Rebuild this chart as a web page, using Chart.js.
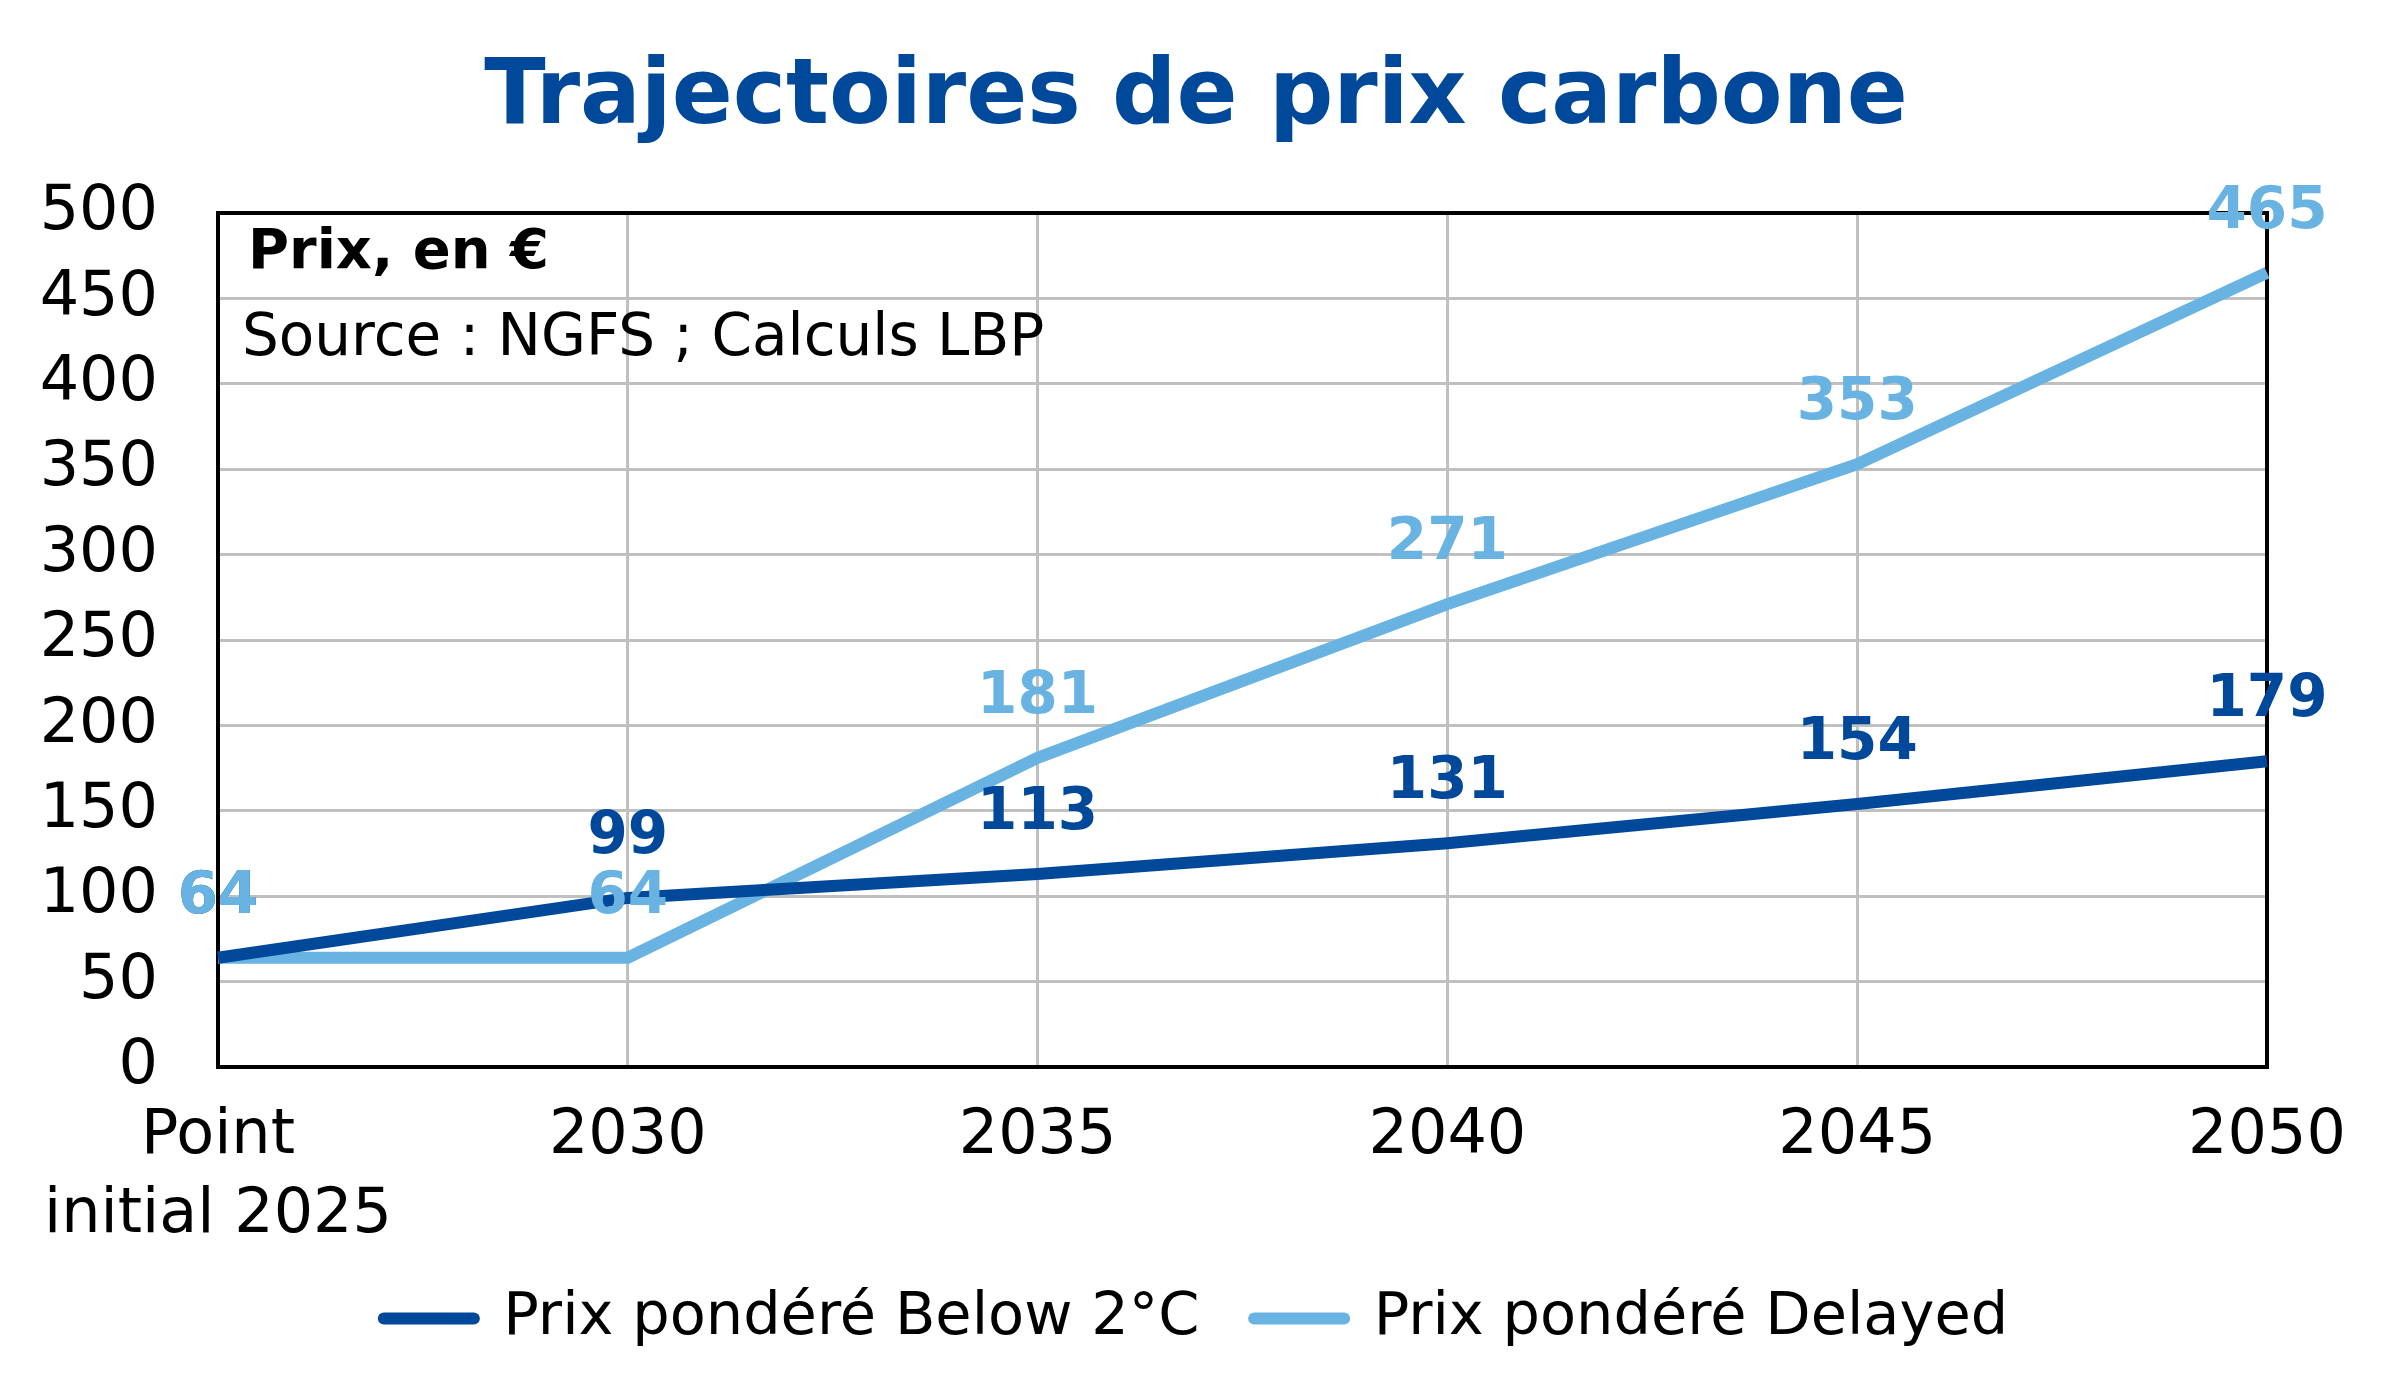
<!DOCTYPE html>
<html lang="fr">
<head>
<meta charset="utf-8">
<script src="https://cdn.jsdelivr.net/npm/chart.js@4.4.1/dist/chart.umd.min.js"></script>
<style>
  html, body { margin: 0; padding: 0; background: #fff; }
  #wrap { width: 2392px; height: 1393px; }
</style>
</head>
<body>
<div id="wrap"><canvas id="grafico" width="2392" height="1393"></canvas></div>
<script>
// données
const annees = [['Point', 'initial 2025'], '2030', '2035', '2040', '2045', '2050'];
const prixBelow2 = [64, 99, 113, 131, 154, 179];
const prixDelayed = [64, 64, 181, 271, 353, 465];
const ticksY = [0, 50, 100, 150, 200, 250, 300, 350, 400, 450, 500];

const BLEU_FONCE = '#00489A';
const BLEU_CLAIR = '#69B3E2';
const POLICE = "'DejaVu Sans', sans-serif";

// cadre noir autour de la zone de tracé + textes en haut à gauche
const cadre = {
  id: 'cadre',
  beforeDatasetsDraw(chart) {
    const { ctx, chartArea: a } = chart;
    ctx.save();
    ctx.strokeStyle = '#000';
    ctx.lineWidth = 4;
    ctx.strokeRect(a.left, a.top, a.right - a.left, a.bottom - a.top);
    ctx.fillStyle = '#000';
    ctx.textAlign = 'left';
    ctx.textBaseline = 'middle';
    ctx.font = 'bold 56px ' + POLICE;
    ctx.fillText('Prix, en €', a.left + 30, a.top + 40);
    ctx.font = '58px ' + POLICE;
    ctx.fillText('Source : NGFS ; Calculs LBP', a.left + 24, a.top + 127);
    ctx.restore();
  }
};

// étiquettes de valeurs au-dessus des points
const etiquettes = {
  id: 'etiquettes',
  afterDatasetsDraw(chart) {
    const ctx = chart.ctx;
    ctx.save();
    ctx.font = 'bold 58px ' + POLICE;
    ctx.textAlign = 'center';
    ctx.textBaseline = 'middle';
    chart.data.datasets.forEach((ds, i) => {
      const meta = chart.getDatasetMeta(i);
      ctx.fillStyle = ds.borderColor;
      meta.data.forEach((pt, j) => {
        ctx.fillText(String(ds.data[j]), pt.x, pt.y - 60);
      });
    });
    ctx.restore();
  }
};

const ctx = document.getElementById('grafico').getContext('2d');
const grafico = new Chart(ctx, {
  type: 'line',
  data: {
    labels: annees,
    datasets: [
      {
        label: 'Prix pondéré Below 2°C',
        data: prixBelow2,
        borderColor: BLEU_FONCE,
        backgroundColor: BLEU_FONCE,
        borderWidth: 12,
        pointRadius: 0,
        tension: 0
      },
      {
        label: 'Prix pondéré Delayed',
        data: prixDelayed,
        borderColor: BLEU_CLAIR,
        backgroundColor: BLEU_CLAIR,
        borderWidth: 12,
        pointRadius: 0,
        tension: 0
      }
    ]
  },
  options: {
    responsive: false,
    animation: false,
    layout: { padding: { left: 0, right: 0, top: 0, bottom: 35 } },
    plugins: {
      title: {
        display: true,
        text: 'Trajectoires de prix carbone',
        color: BLEU_FONCE,
        font: { family: POLICE, size: 90, weight: 'bold' },
        padding: { top: 46, bottom: 59 }
      },
      legend: {
        position: 'bottom',
        labels: {
          color: '#000',
          font: { family: POLICE, size: 59 },
          usePointStyle: true,
          pointStyleWidth: 90,
          padding: 36,
          generateLabels(chart) {
            const items = Chart.defaults.plugins.legend.labels.generateLabels(chart);
            return items.map((it, i) => {
              it.pointStyle = 'line';
              it.lineCap = 'round';
              it.lineWidth = 12;
              // un peu plus d'espace entre les deux entrées
              if (i < items.length - 1) it.text += '\u00a0';
              return it;
            });
          }
        }
      },
      tooltip: { enabled: false }
    },
    scales: {
      x: {
        offset: false,
        afterFit(scale) {
          scale.height = 186;
        },
        grid: { color: '#C0C0C0', lineWidth: 3, drawTicks: false },
        border: { display: false },
        ticks: {
          color: '#000',
          font: { family: POLICE, size: 62, lineHeight: 1.28 },
          padding: 30,
          maxRotation: 0,
          autoSkip: false
        }
      },
      y: {
        min: 0,
        max: 500,
        afterBuildTicks(scale) {
          scale.ticks = ticksY.map(v => ({ value: v }));
        },
        afterFit(scale) {
          scale.width = 218;
        },
        grid: { color: '#C0C0C0', lineWidth: 3, drawTicks: false },
        border: { display: false },
        ticks: {
          color: '#000',
          font: { family: POLICE, size: 62 },
          padding: 60
        }
      },
      // axe vide à droite pour réserver la marge
      y2: {
        position: 'right',
        afterFit(scale) {
          scale.width = 125;
        },
        grid: { display: false },
        border: { display: false },
        ticks: { display: false }
      }
    }
  },
  plugins: [cadre, etiquettes]
});
</script>
</body>
</html>
